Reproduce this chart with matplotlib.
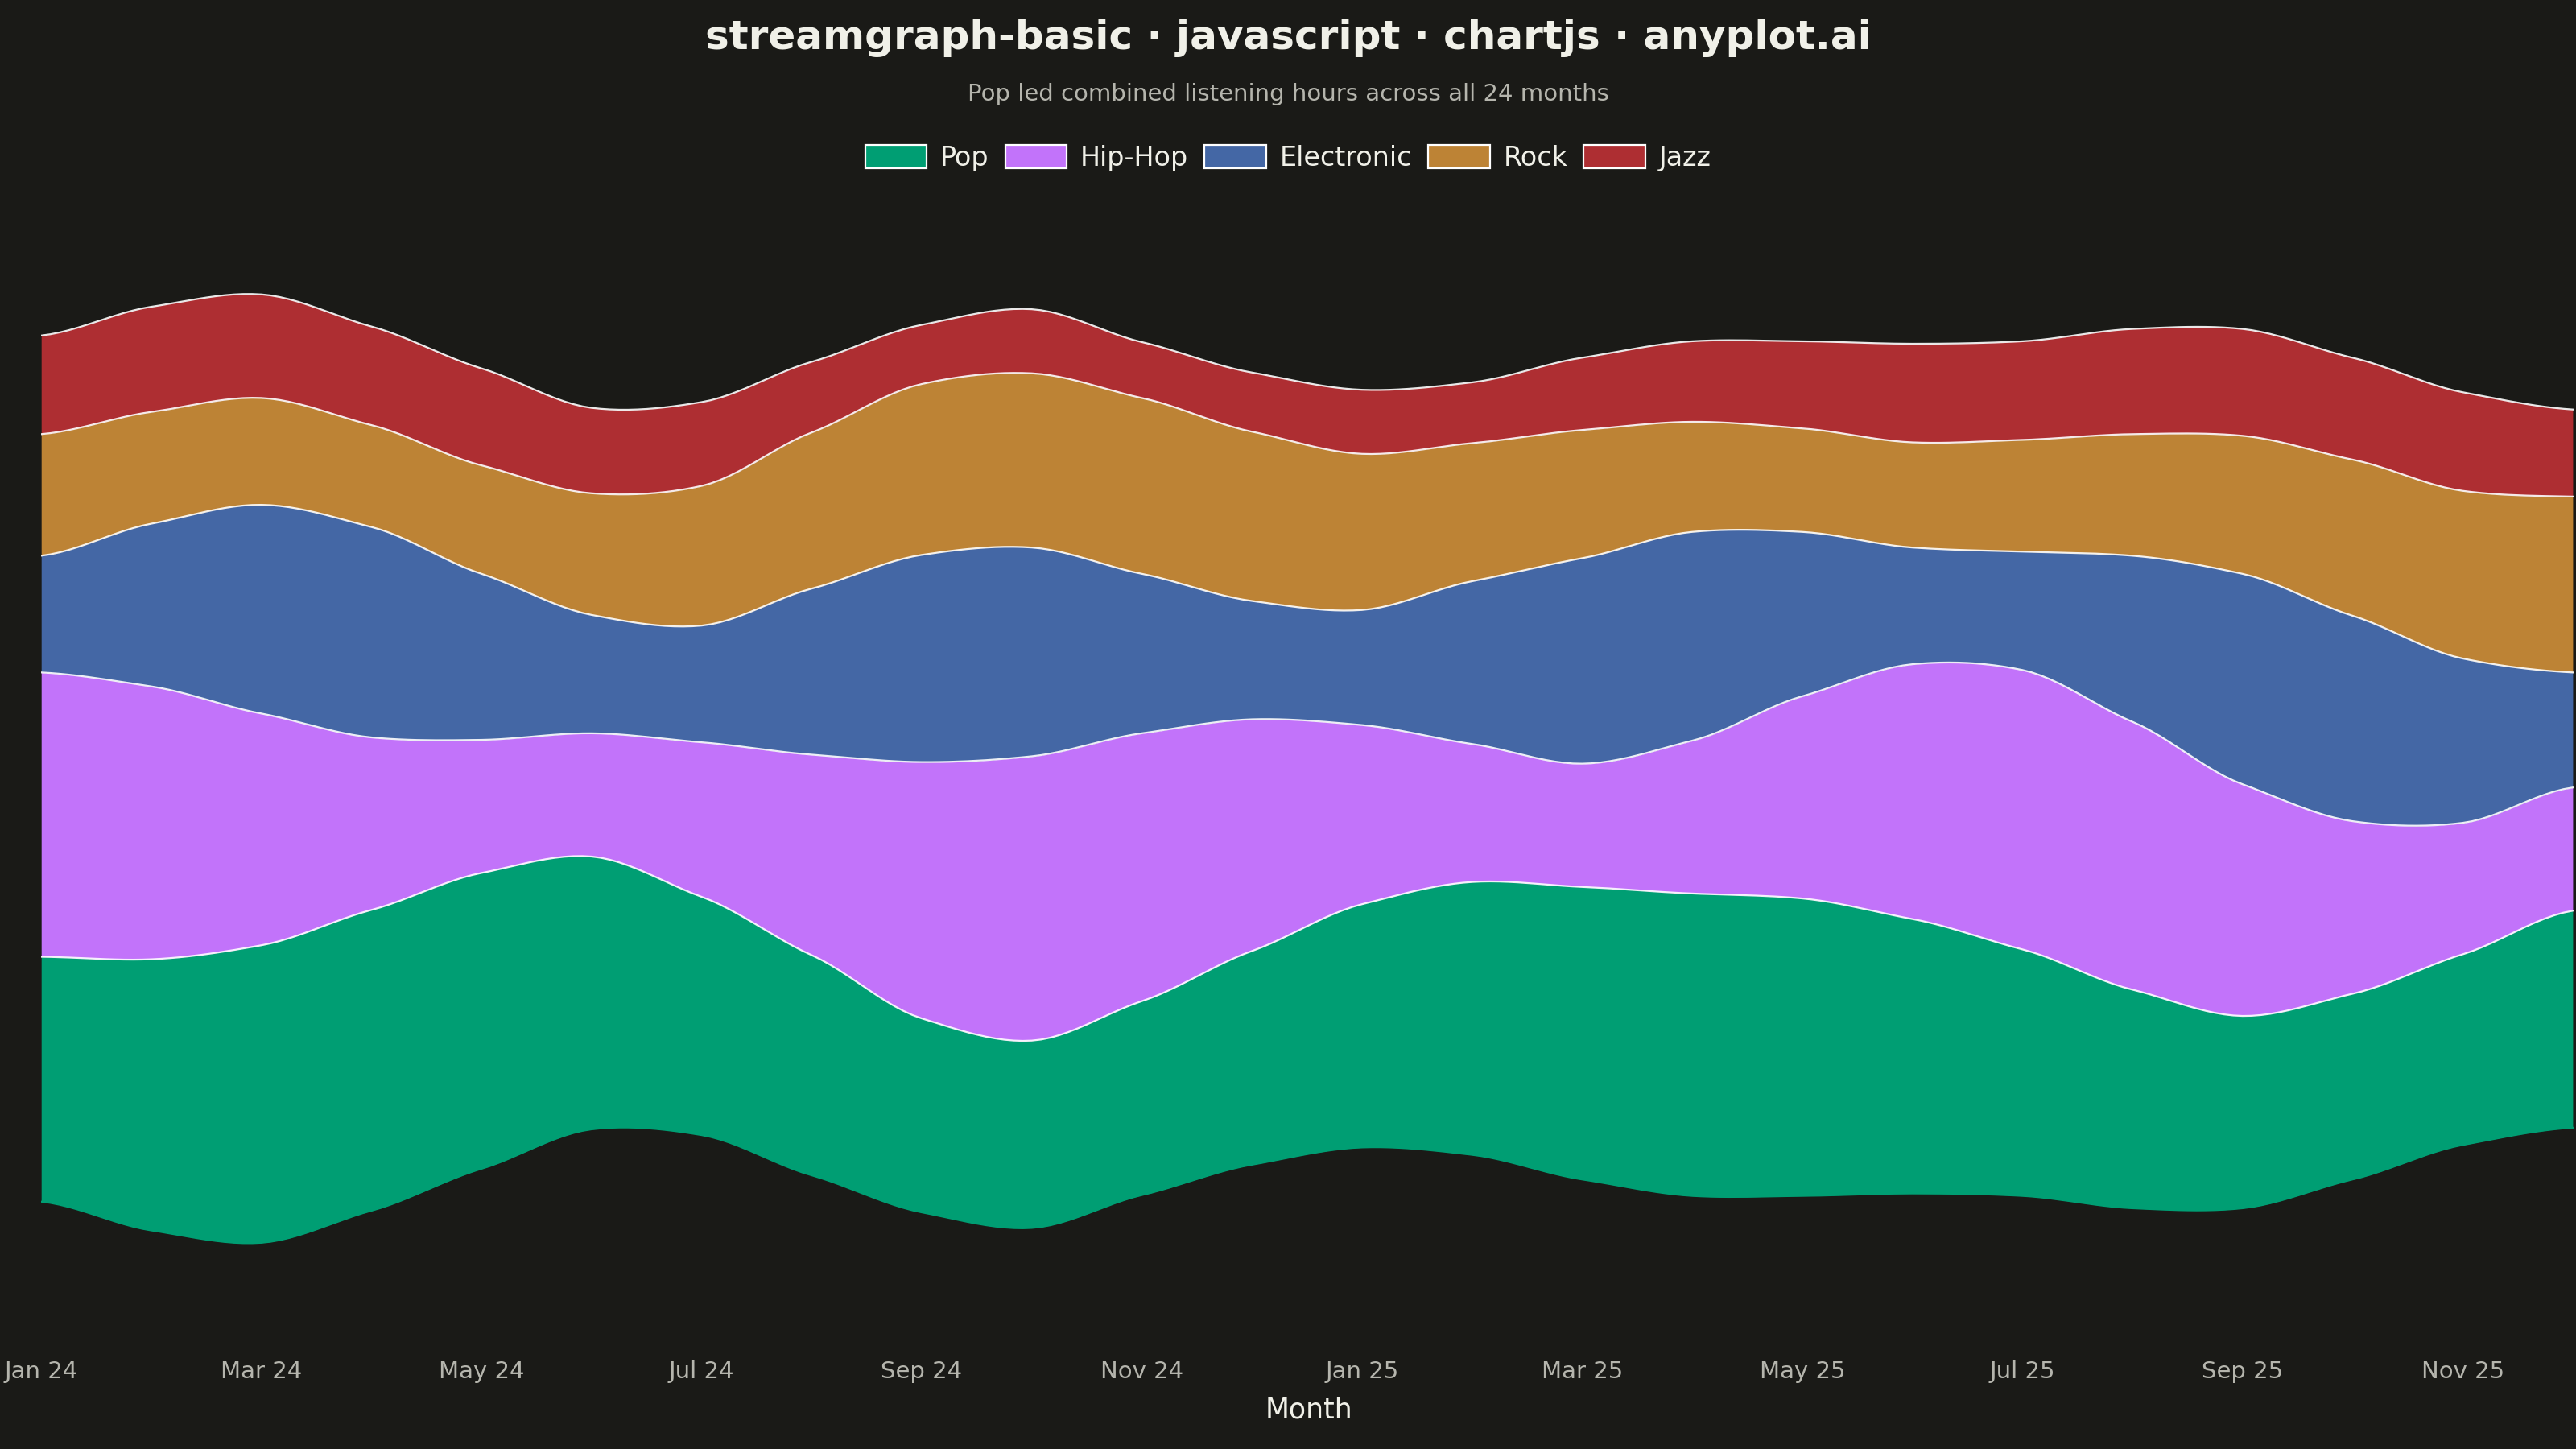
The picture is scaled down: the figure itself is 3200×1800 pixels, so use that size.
import numpy as np
import matplotlib.pyplot as plt
from matplotlib.patches import Patch

months = ["Jan 24", "Feb 24", "Mar 24", "Apr 24", "May 24", "Jun 24", "Jul 24", "Aug 24",
          "Sep 24", "Oct 24", "Nov 24", "Dec 24", "Jan 25", "Feb 25", "Mar 25", "Apr 25",
          "May 25", "Jun 25", "Jul 25", "Aug 25", "Sep 25", "Oct 25", "Nov 25", "Dec 25"]
genres = ["Pop", "Hip-Hop", "Electronic", "Rock", "Jazz"]
colors = ["#009E73", "#C273FA", "#4467A5", "#BD8335", "#AE2E32"]

# listening hours (thousands)
pop = [149, 165, 181, 183, 180, 166, 145, 134, 118, 114, 118, 130, 148, 166, 178, 184, 181, 167, 150, 133, 117, 113, 116, 132]
hiphop = [173, 166, 141, 105, 81, 75, 94, 122, 156, 173, 163, 141, 109, 84, 75, 93, 123, 155, 170, 163, 141, 105, 80, 75]
electronic = [71, 99, 127, 128, 101, 72, 71, 101, 126, 127, 97, 72, 70, 99, 125, 127, 100, 71, 72, 101, 128, 125, 100, 70]
rock = [74, 68, 65, 62, 66, 74, 85, 95, 104, 106, 107, 103, 95, 84, 78, 67, 63, 64, 68, 74, 84, 95, 102, 107]
jazz = [60, 64, 63, 60, 59, 52, 51, 43, 36, 39, 34, 36, 39, 37, 44, 49, 53, 60, 60, 64, 65, 62, 60, 53]

series = np.array([pop, hiphop, electronic, rock, jazz], dtype=float)
n = len(months)
x = np.arange(n)


def smooth(xs, ys, k=12):
    # catmull-rom style smoothing for the rendered curve
    px, py = [], []
    ys = np.asarray(ys)
    for i in range(len(xs) - 1):
        p0 = ys[max(i - 1, 0)]
        p1, p2 = ys[i], ys[i + 1]
        p3 = ys[min(i + 2, len(ys) - 1)]
        t = np.linspace(0, 1, k, endpoint=False)
        m1 = (p2 - p0) / 2 * 0.8
        m2 = (p3 - p1) / 2 * 0.8
        h00 = 2 * t**3 - 3 * t**2 + 1
        h10 = t**3 - 2 * t**2 + t
        h01 = -2 * t**3 + 3 * t**2
        h11 = t**3 - t**2
        px.extend(xs[i] + t)
        py.extend(h00 * p1 + h10 * m1 + h01 * p2 + h11 * m2)
    px.append(xs[-1])
    py.append(ys[-1])
    return np.array(px), np.array(py)


total = series.sum(axis=0)
base = -total / 2
bounds = [base]
for s in series:
    bounds.append(bounds[-1] + s)

bg = "#1A1A17"
fig = plt.figure(figsize=(16, 9), dpi=200, facecolor=bg)
ax = fig.add_axes([0.016, 0.0703, 0.984, 0.794], facecolor=bg)

for i, g in enumerate(genres):
    sx, lo = smooth(x, bounds[i])
    _, hi = smooth(x, bounds[i + 1])
    ax.fill_between(sx, lo, hi, color=colors[i], linewidth=0)
    ax.plot(sx, hi, color="white", lw=0.8, alpha=0.9)
    if i == 0:
        ax.plot(sx, lo, color=colors[0], lw=0.8)

ax.set_xlim(0, n - 1 + 0.03)
ax.set_ylim(-352, 348)
ax.set_yticks([])
ax.set_xticks(x[::2])
ax.set_xticklabels(months[::2], color="#B5B5AD", fontsize=10.5)
ax.tick_params(axis="x", length=0, pad=6)
for sp in ax.spines.values():
    sp.set_visible(False)
ax.set_xlabel("Month", color="#F0F0E8", fontsize=12.5, labelpad=6)

fig.text(0.5, 0.974, "streamgraph-basic · javascript · chartjs · anyplot.ai", ha="center", va="center",
         color="#F0F0E8", fontsize=18, fontweight="bold")
fig.text(0.5, 0.935, "Pop led combined listening hours across all 24 months", ha="center", va="center",
         color="#B5B5AD", fontsize=10.5)
handles = [Patch(facecolor=c, edgecolor="white", linewidth=0.8) for c in colors]
fig.legend(handles, genres, loc="center", bbox_to_anchor=(0.5, 0.891), ncol=5, frameon=False,
           fontsize=12, labelcolor="#F0F0E8", handlelength=2.3, handleheight=1.0, columnspacing=0.6,
           handletextpad=0.5)

fig.savefig("out.png", facecolor=bg)
